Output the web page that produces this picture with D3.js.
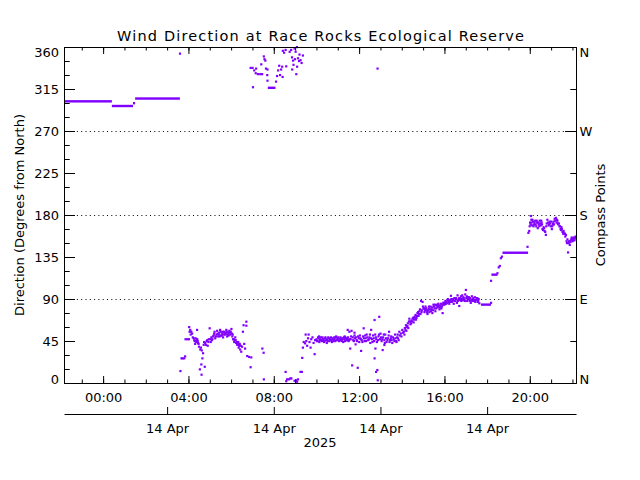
<!DOCTYPE html>
<html><head><meta charset="utf-8">
<script src="https://cdn.jsdelivr.net/npm/d3@7"></script>
<style>body{margin:0;background:#fff}svg{display:block}</style>
</head><body><svg id="c" width="640" height="480"></svg>
<script>
const chartTitle = "Wind Direction at Race Rocks Ecological Reserve";
const yTitle = "Direction (Degrees from North)";
const rightTitle = "Compass Points";
const startTime = "2025-04-13T22:10:00Z";
const endTime = "2025-04-14T22:10:00Z";
const baseTime = "2025-04-14T00:00:00Z";

// flat runs: [start hour, end hour, direction] (hours after 00:00 14 Apr)
const runs = [
  [-1.82, 0.41, 302], [0.41, 1.40, 297], [1.40, 1.50, 300], [1.50, 3.60, 305],
  [7.72, 8.08, 316.5],
  [17.71, 18.18, 84.2], [18.20, 18.49, 116.3], [18.72, 19.92, 139.8]
];

// individual observations: [hour after 00:00 14 Apr, direction]
const obs = [
  [3.60,353],[3.62,12.9],[3.67,26.5],[3.73,26.5],[3.80,26.5],[3.84,28.6],[3.86,47],[3.94,47],[4.02,47],
  [4.03,60],[4.08,57],[4.13,55],[4.17,53],[4.24,48],[4.29,45],[4.31,42],[4.36,44],[4.40,57],[4.41,47],
  [4.45,43],[4.49,39],[4.53,14.7],[4.55,36],[4.60,20],[4.61,9],[4.62,35],[4.65,26.5],[4.68,32],[4.71,41],
  [4.76,17.5],[4.78,43],[4.85,45],[4.90,40],[4.95,47],[4.99,58.7],[5.04,44],[5.09,46],[5.15,50],[5.20,53],
  [5.25,48],[5.31,52],[5.34,56],[5.39,50],[5.44,54],[5.48,57],[5.53,51],[5.58,53],[5.62,49],[5.67,55],
  [5.72,52],[5.77,57],[5.81,50],[5.86,54],[5.91,56],[5.95,52],[6.01,58],[6.05,50],[6.09,47],[6.14,44],
  [6.19,49],[6.23,43],[6.28,41],[6.33,44],[6.37,40],[6.42,36],[6.47,33.6],[6.51,39],[6.55,55],[6.58,62],
  [6.61,42],[6.65,37],[6.71,65.8],[6.71,61.5],[6.75,29],[6.84,28],[6.91,17],[6.94,27.5],[7.46,37],[7.52,32.5],[7.53,4],
  [4.05,55],[4.10,52],[4.20,49],[4.27,46],[4.33,48],[4.38,46],[4.43,45],[4.47,42],[4.58,38],[4.73,44],
  [4.82,41],[4.88,46],[4.93,44],[5.02,47],[5.07,49],[5.12,47],[5.18,51],[5.22,55],[5.28,50],[5.36,53],
  [5.42,52],[5.46,50],[5.51,55],[5.56,51],[5.60,55],[5.65,52],[5.70,54],[5.75,53],[5.79,55],[5.84,52],
  [5.88,51],[5.93,54],[5.98,55],[6.03,53],[6.07,52],[6.12,47],[6.16,46],[6.21,46],[6.26,44],[6.31,42],
  [6.35,38],[6.40,42],[6.45,40],
  [6.91,337.7],[7.00,337.7],[7.08,335],[7.17,337],[7.02,317],[7.15,332],[7.25,331],[7.36,331],[7.45,331],
  [7.41,341.5],[7.53,350],[7.56,347],[7.60,345.5],[7.63,337],[7.70,336],[7.69,330],[7.70,324],
  [8.10,323],[8.15,329],[8.20,335],[8.25,340],[8.29,330],[8.34,336],[8.39,339],[8.41,328],[8.42,356],
  [8.48,354],[8.55,357],[8.58,339.4],[8.74,355],[8.81,357],[8.86,336],[8.85,349],[8.90,345.5],[8.92,341],
  [8.97,358.5],[8.99,347],[9.02,355],[9.05,331],[9.08,360],[9.09,339],[9.13,348],[9.18,345],[9.20,352],
  [9.25,346],[9.30,343],[9.36,351],[12.86,337],
  [8.55,12],[8.58,2],[8.62,4],[8.70,4],[8.77,5],[8.82,5],[8.97,2.5],[9.05,3],[9.09,1.5],[9.13,4],
  [9.25,12],[9.31,12],[9.33,27],[9.36,38],[9.40,44],[9.46,42.6],[9.49,52],[9.52,45],[9.56,40],[9.60,48],
  [9.63,52],[9.67,44],[9.72,38],[9.75,47],[9.81,49],[9.86,43],[9.91,31],[9.93,46],
  [10.00,47],[10.05,45],[10.10,48],[10.12,50],[10.15,46],[10.20,49],[10.25,45],[10.30,47],[10.35,44],
  [10.40,48],[10.45,46],[10.48,43],[10.50,47],[10.55,49],[10.60,45],[10.65,47],[10.70,46],[10.75,48],
  [10.80,45],[10.85,47],[10.90,49],[10.92,50],[10.95,46],[11.00,48],[11.05,45],[11.10,47],[11.15,46],
  [11.20,48],[11.25,44],[11.30,47],[11.32,50],[11.35,49],[11.40,46],[11.45,48],[11.50,45],[11.55,47],
  [10.02,45],[10.07,49],[10.13,44],[10.17,47],[10.22,46],[10.28,49],[10.33,46],[10.38,45],[10.42,49],
  [10.52,45],[10.58,48],[10.62,46],[10.68,49],[10.72,44],[10.78,47],[10.83,49],[10.88,45],[10.98,47],
  [11.02,49],[11.08,46],[11.12,49],[11.18,45],[11.22,47],[11.28,49],[11.33,45],[11.38,48],[11.43,46],
  [11.48,49],[11.52,46],
  [11.46,57],[11.54,55],[11.58,37],[11.67,19],[11.83,41.5],[11.93,16.4],[11.64,56],[11.78,54],[12.09,34.5],
  [12.21,58.7],[12.56,57],[12.72,67.6],[12.72,26.5],[12.76,37],[12.79,12],[12.85,14],[12.87,3],[12.94,71],
  [13.10,35.4],[13.18,40.8],
  [11.60,47],[11.70,49],[11.75,45],[11.80,48],[11.88,46],[11.95,50],[12.00,44],[12.05,48],[12.12,46],
  [12.18,50],[12.25,45],[12.30,48],[12.35,52],[12.42,46],[12.48,49],[12.52,43],[12.60,47],[12.65,51],
  [12.70,45],[12.78,49],[12.83,44],[12.90,50],[12.97,47],[13.00,53],[13.05,45],[13.12,49],[13.18,46],
  [13.22,52],[13.28,44],[13.35,48],[13.40,55],[13.45,46],[13.50,50],[13.55,43],[13.62,47],[13.68,52],
  [13.72,45],[13.78,49],[13.85,46],[13.90,51],
  [11.62,50],[11.72,46],[11.78,51],[11.85,49],[11.90,45],[11.98,48],[12.03,51],[12.08,47],[12.15,44],
  [12.22,48],[12.28,51],[12.32,45],[12.38,49],[12.45,47],[12.50,52],[12.55,48],[12.62,44],[12.68,48],
  [12.75,52],[12.80,47],[12.88,46],[12.93,52],[13.02,49],[13.08,47],[13.15,52],[13.20,43],[13.25,48],
  [13.32,46],[13.38,51],[13.42,44],[13.48,48],[13.52,46],[13.58,49],[13.65,45],[13.70,48],[13.75,44],[13.82,48],
  [13.80,52],[13.88,55],[13.95,53],[14.02,57],[14.09,55],[14.14,59],[14.19,62],[14.23,60],[14.28,64],
  [14.33,66],[14.35,69],[14.40,63],[14.45,67],[14.50,69],[14.55,65],[14.59,71],[14.64,73],[14.69,70],
  [14.73,75],[14.78,72],[14.82,77],[14.87,74],[14.90,88],[14.94,78],[14.97,87],[15.01,80],[15.06,76],
  [15.11,82],[15.16,78],[15.20,74],[15.25,80],[15.29,76],[15.34,82],[15.39,79],[15.43,75],[15.48,84],
  [15.53,80],[15.57,77],[15.62,83],[15.67,81],[15.71,85],[15.76,79],[15.81,83],[15.85,80],[15.91,75],
  [15.94,86],[15.99,84],[16.04,88],[16.08,85],[16.13,89],[16.18,87],[16.22,85],[16.27,89],[16.30,93.5],
  [16.34,87],[16.39,90],[16.43,85],[16.48,88],[16.53,91],[16.58,86],[16.61,94],[16.65,89],[16.69,82.6],
  [16.74,91],[16.79,88],[16.83,94],[16.88,92],[16.93,89],[16.97,95],[17.00,99.8],[17.04,93],[17.09,90],
  [17.14,92],[17.18,88],[17.23,86],[17.28,93],[17.32,90],[17.37,88],[17.42,92],[17.47,89],[17.51,91],
  [17.56,87],[17.60,90],[17.63,85.5],
  [13.98,50],[14.05,54],[14.12,52],[14.17,57],[14.21,56],[14.26,61],[14.30,59],[14.38,66],[14.43,64],
  [14.48,66],[14.53,70],[14.57,68],[14.62,70],[14.66,68],[14.71,72],[14.76,76],[14.80,74],[14.85,79],
  [14.92,76],[14.99,82],[15.04,80],[15.08,78],[15.13,80],[15.18,76],[15.23,78],[15.27,82],[15.32,79],
  [15.36,77],[15.41,81],[15.46,78],[15.50,82],[15.55,84],[15.60,80],[15.65,84],[15.69,82],[15.74,83],
  [15.79,81],[15.83,85],[15.88,82],[15.92,84],[15.97,86],[16.02,85],[16.06,87],[16.11,86],[16.16,90],
  [16.20,88],[16.25,87],[16.32,90],[16.37,88],[16.41,89],[16.46,91],[16.51,88],[16.55,90],[16.63,88],
  [16.67,91],[16.72,89],[16.77,93],[16.81,90],[16.86,89],[16.90,91],[16.95,88],[17.02,91],[17.06,88],
  [17.11,92],[17.16,90],[17.20,91],[17.25,89],[17.30,88],[17.35,91],[17.40,89],[17.44,87],[17.49,89],
  [17.54,91],[17.58,88],
  [18.18,86],[18.18,109.6],[18.48,117.7],[18.54,124],[18.59,125.5],[18.64,133.8],[18.69,135.5],
  [19.89,146],[19.93,161],[19.97,163],[19.99,168],[20.01,172],[20.05,179],[20.07,175],[20.10,169],
  [20.15,173],[20.20,170],[20.25,174],[20.30,168],[20.34,172],[20.37,166],[20.41,170],[20.46,174],
  [20.51,169],[20.55,172],[20.59,165],[20.64,167],[20.69,163],[20.75,158.8],[20.79,171],[20.82,175],
  [20.88,169],[20.93,173],[20.98,168],[21.03,165],[21.07,170],[21.11,173],[21.16,176],[21.22,177],
  [21.25,172],[21.29,174],[21.33,170],[21.39,168],[21.44,165],[21.48,167],[21.53,162],[21.58,163],
  [21.61,160.6],[21.64,160],[21.69,158.8],[21.76,154],[21.79,140],[21.82,150],[21.87,148],[21.92,153],
  [21.96,156],[22.00,152],[22.05,155],[22.09,153],[22.14,157],
  [20.03,170],[20.08,172],[20.12,175],[20.17,168],[20.22,172],[20.27,170],[20.32,174],[20.39,172],
  [20.44,168],[20.48,171],[20.53,174],[20.57,170],[20.62,164],[20.67,166],[20.72,162],[20.77,168],
  [20.85,172],[20.90,170],[20.95,171],[21.00,173],[21.05,168],[21.09,171],[21.13,170],[21.19,174],
  [21.27,175],[21.31,171],[21.36,171],[21.41,168],[21.46,164],[21.50,165],[21.56,160],[21.66,157],
  [21.72,152],[21.74,150],[21.84,152],[21.90,151],[21.94,154],[21.98,155],[22.02,153],[22.07,156],
  [22.12,155],[22.16,156]
];

const dirMajorTicks = [0,45,90,135,180,225,270,315,360];
const dirMinorTicks = [15,30,60,75,105,120,150,165,195,210,240,255,285,300,330,345];
const gridValues = [90,180,270];
const compassValues = [0,90,180,270,360];
const compassLabels = ["N","E","S","W","N"];
const compassMinor = [45,135,225,315];
const dateTickTimes = ["2025-04-14T03:00:00Z","2025-04-14T08:00:00Z","2025-04-14T13:00:00Z","2025-04-14T18:00:00Z"];
const dateTickLabels = ["14 Apr","14 Apr","14 Apr","14 Apr"];
const yearLabel = "2025";

const FONT = "DejaVu Sans, sans-serif";
const COLOR = "rgb(128,0,255)";
const L = 64, R = 576, T = 47, B = 383;
const svg = d3.select("#c");
const base = new Date(baseTime).getTime();
const toDate = h => new Date(base + h * 3600000);

const x = d3.scaleUtc().domain([new Date(startTime), new Date(endTime)]).range([L, R]);
const y = d3.scaleLinear().domain([0, 360]).range([B, T]);

// gridlines
svg.append("g").selectAll("line").data(gridValues).join("line")
  .attr("x1", L).attr("x2", R).attr("y1", d => Math.round(y(d)) + 0.5).attr("y2", d => Math.round(y(d)) + 0.5)
  .attr("stroke", "#000").attr("stroke-width", 1).attr("stroke-dasharray", "1,3.3");

// data
const plot = svg.append("g");
plot.selectAll("rect.run").data(runs).join("rect").attr("class", "run")
  .attr("x", d => x(toDate(d[0]))).attr("width", d => x(toDate(d[1])) - x(toDate(d[0])))
  .attr("y", d => y(d[2]) - 1).attr("height", 2.4).attr("fill", COLOR);
plot.selectAll("rect.pt").data(obs).join("rect").attr("class", "pt")
  .attr("x", d => x(toDate(d[0])) - 1).attr("y", d => y(d[1]) - 1)
  .attr("width", 2.2).attr("height", 2.2).attr("fill", COLOR);

function style(g) {
  g.selectAll("path,line").attr("stroke", "#000").attr("stroke-width", 1);
  g.selectAll("text").attr("font-family", FONT).attr("font-size", 13).attr("fill", "#000");
}

// bottom axis
svg.append("g").attr("transform", `translate(0,${B})`)
  .call(d3.axisBottom(x).ticks(d3.utcHour.every(4)).tickFormat(d3.utcFormat("%H:%M")).tickSizeInner(-7).tickSizeOuter(0).tickPadding(9.5))
  .call(style);
svg.append("g").attr("transform", `translate(0,${B})`)
  .call(d3.axisBottom(x).ticks(d3.utcHour.every(1)).tickFormat("").tickSizeInner(-3.5).tickSizeOuter(0))
  .call(style);
// top axis
svg.append("g").attr("transform", `translate(0,${T})`)
  .call(d3.axisTop(x).ticks(d3.utcHour.every(4)).tickFormat("").tickSizeInner(-7).tickSizeOuter(0))
  .call(style);
svg.append("g").attr("transform", `translate(0,${T})`)
  .call(d3.axisTop(x).ticks(d3.utcHour.every(1)).tickFormat("").tickSizeInner(-3.5).tickSizeOuter(0))
  .call(style);
// left axis
const la = svg.append("g").attr("transform", `translate(${L},0)`)
  .call(d3.axisLeft(y).tickValues(dirMajorTicks).tickFormat(d3.format("d")).tickSizeInner(-11).tickSizeOuter(0).tickPadding(5))
  .call(style);
svg.append("g").attr("transform", `translate(${L},0)`)
  .call(d3.axisLeft(y).tickValues(dirMinorTicks).tickFormat("").tickSizeInner(-5.7).tickSizeOuter(0))
  .call(style);
// right axis
const ra = svg.append("g").attr("transform", `translate(${R},0)`)
  .call(d3.axisRight(y).tickValues(compassValues).tickFormat((d, i) => compassLabels[i]).tickSizeInner(-11).tickSizeOuter(0).tickPadding(3.5))
  .call(style);
svg.append("g").attr("transform", `translate(${R},0)`)
  .call(d3.axisRight(y).tickValues(compassMinor).tickFormat("").tickSizeInner(-5.7).tickSizeOuter(0))
  .call(style);
// nudge end labels inward
[la, ra].forEach(a => a.selectAll(".tick text").attr("dy", d => d === 360 ? "0.75em" : d === 0 ? "0.05em" : "0.32em"));

// date axis
const DY = 414;
svg.append("g").attr("transform", `translate(0,${DY})`)
  .call(d3.axisBottom(x).tickValues(dateTickTimes.map(s => new Date(s))).tickFormat((d, i) => dateTickLabels[i]).tickSizeInner(-7).tickSizeOuter(0).tickPadding(9.5))
  .call(style);
svg.append("text").attr("x", (L + R) / 2).attr("y", 447).attr("text-anchor", "middle")
  .attr("font-family", FONT).attr("font-size", 13).text(yearLabel);

// titles
svg.append("text").attr("x", 320.5).attr("y", 41).attr("text-anchor", "middle")
  .attr("font-family", FONT).attr("font-size", 14.5).attr("textLength", 407).attr("lengthAdjust", "spacing").text(chartTitle);
svg.append("text").attr("transform", `translate(24,${(T + B) / 2}) rotate(-90)`).attr("text-anchor", "middle")
  .attr("font-family", FONT).attr("font-size", 13).text(yTitle);
svg.append("text").attr("transform", `translate(605,${(T + B) / 2}) rotate(-90)`).attr("text-anchor", "middle")
  .attr("font-family", FONT).attr("font-size", 13).text(rightTitle);
</script></body></html>
